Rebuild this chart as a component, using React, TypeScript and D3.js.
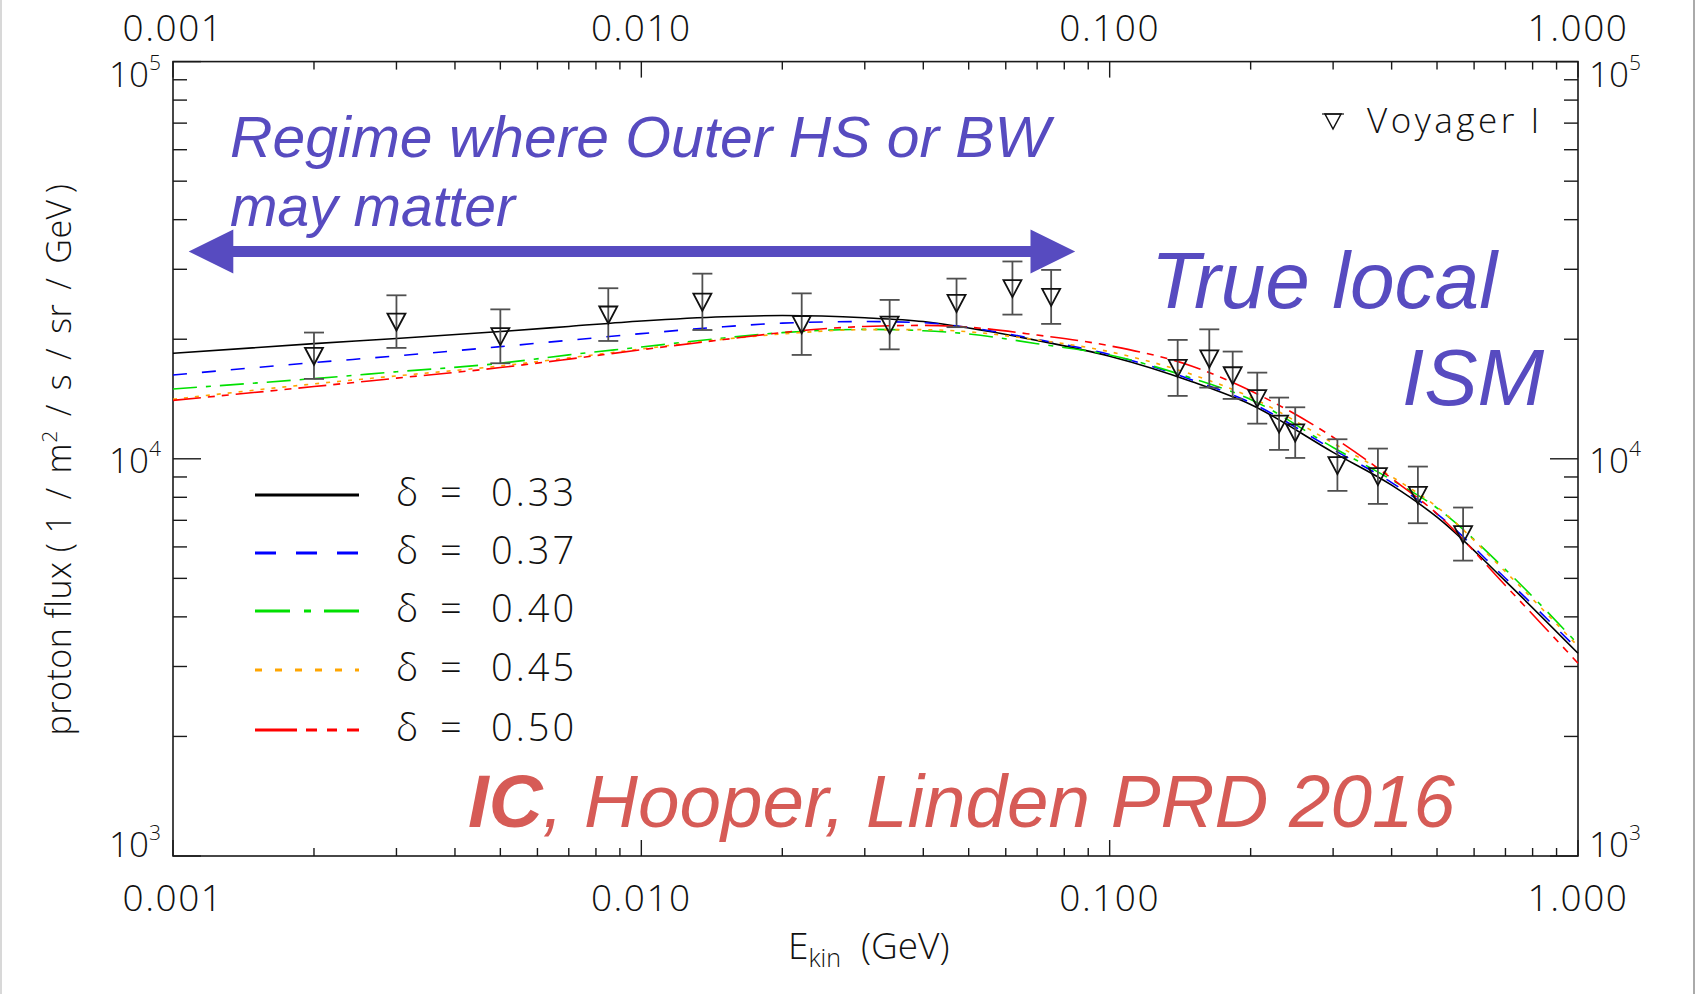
import * as d3 from 'd3';
import * as React from 'react';

// model curves (delta values)
const energyGrid = [0.001, 0.002, 0.003, 0.005, 0.007, 0.01, 0.015, 0.02, 0.03, 0.04, 0.05, 0.07, 0.1, 0.15, 0.2, 0.3, 0.4, 0.5, 0.7, 1.0];
const fluxDelta033 = [18430, 19500, 20080, 20910, 21540, 22230, 22790, 22940, 22650, 22160, 21340, 19860, 18120, 15630, 13700, 10380, 8582, 7130, 4920, 3240];
const fluxDelta037 = [16260, 17470, 18160, 19160, 19880, 20660, 21500, 21960, 22160, 22020, 21410, 19980, 18300, 15800, 13850, 10550, 8710, 7265, 5003, 3309];
const fluxDelta040 = [14990, 15920, 16560, 17400, 18270, 19120, 20150, 20780, 21180, 21010, 20620, 19490, 18250, 15950, 14110, 10680, 8850, 7518, 5261, 3415];
const fluxDelta045 = [14120, 15440, 16170, 17130, 17950, 18900, 20000, 20620, 21140, 21140, 20880, 19920, 18600, 16300, 14290, 10950, 9020, 7565, 5195, 3373];
const fluxDelta050 = [14030, 15200, 15960, 16970, 17820, 18820, 19960, 20790, 21540, 21670, 21440, 20490, 19250, 17110, 14830, 11330, 8923, 7270, 4796, 3058];
const deltaLabels = ['0.33', '0.37', '0.40', '0.45', '0.50'];

// Voyager I data points with error bars
const voyagerEnergy = [0.002, 0.003, 0.005, 0.0085, 0.0135, 0.022, 0.0339, 0.0471, 0.062, 0.075, 0.1397, 0.1632, 0.1831, 0.2066, 0.23, 0.249, 0.3064, 0.3739, 0.4551, 0.5684];
const voyagerFlux = [18170, 22160, 20360, 23080, 24860, 21820, 21770, 24680, 26900, 25560, 16940, 17890, 16230, 14210, 12260, 11650, 9643, 9042, 8112, 6461];
const voyagerLow = [15890, 19020, 17400, 19800, 21100, 18260, 18860, 21450, 23070, 21860, 14400, 15110, 14150, 12260, 10530, 10050, 8303, 7700, 6883, 5542];
const voyagerHigh = [20790, 25800, 23780, 26880, 29250, 26090, 25120, 28420, 31390, 29890, 19920, 21180, 18620, 16480, 14260, 13480, 11200, 10610, 9559, 7539];

const xTickValues = [0.001, 0.01, 0.1, 1];
const xTickLabels = ['0.001', '0.010', '0.100', '1.000'];
const yTickValues = [1e3, 1e4, 1e5];
const yTickExponents = ['3', '4', '5'];

const W = 1695;
const H = 994;
const left = 173;
const right = 1578;
const top = 61.6;
const bottom = 856;

const font = "'Open Sans', 'DejaVu Sans', sans-serif";
const helv = "'Liberation Sans', Arial, sans-serif";
const purple = '#574bc0';
const red = '#d65b56';

const seriesStyles = [
    { color: '#000000', dash: null, legendDash: null },
    { color: '#0000ff', dash: '14,15', legendDash: '21,20' },
    { color: '#00e000', dash: '24,9,5,9', legendDash: '35,14,7,13' },
    { color: '#ffa500', dash: '4,7', legendDash: '7,13' },
    { color: '#ff0000', dash: '28,7,7,7,7,7', legendDash: '42,9,11,10,10,10' },
];

export default function App() {
    const x = d3.scaleLog().domain([0.001, 1]).range([left, right]);
    const y = d3.scaleLog().domain([1e3, 1e5]).range([bottom, top]);

    const series = [fluxDelta033, fluxDelta037, fluxDelta040, fluxDelta045, fluxDelta050];
    const line = d3.line<number>()
        .x((_, i) => x(energyGrid[i]))
        .y(d => y(d))
        .curve(d3.curveMonotoneX);

    // minor ticks
    const xMinor: number[] = [];
    [0.001, 0.01, 0.1].forEach(d => { for (let k = 2; k <= 9; k++) xMinor.push(d * k); });
    const yMinor: number[] = [];
    [1e3, 1e4].forEach(d => { for (let k = 2; k <= 9; k++) yMinor.push(d * k); });

    const xMajLen = 16, xMinLen = 8, yMajLen = 28, yMinLen = 14;
    const axisColor = '#1a1a1a';

    const legendRows = [495, 553, 611, 670, 730];

    return (
        <div style={{ position: 'absolute', left: 0, top: 0 }}>
            <svg width={W} height={H} style={{ display: 'block', background: '#fff' }}>
                <line x1={1} x2={1} y1={0} y2={H} stroke="#d8d8d8" strokeWidth={2} />
                <line x1={W - 1} x2={W - 1} y1={0} y2={H} stroke="#aaaaaa" strokeWidth={2} />

                {/* frame */}
                <rect x={left} y={top} width={right - left} height={bottom - top} fill="none" stroke={axisColor} strokeWidth={1.6} />

                {/* x ticks (bottom & top) */}
                {xTickValues.concat(xMinor).map((d, i) => {
                    const len = i < xTickValues.length ? xMajLen : xMinLen;
                    return (
                        <g key={'xt' + i} stroke={axisColor} strokeWidth={1.4}>
                            <line x1={x(d)} x2={x(d)} y1={bottom} y2={bottom - len} />
                            <line x1={x(d)} x2={x(d)} y1={top} y2={top + len} />
                        </g>
                    );
                })}
                {/* y ticks (left & right) */}
                {yTickValues.concat(yMinor).map((d, i) => {
                    const len = i < yTickValues.length ? yMajLen : yMinLen;
                    return (
                        <g key={'yt' + i} stroke={axisColor} strokeWidth={1.4}>
                            <line x1={left} x2={left + len} y1={y(d)} y2={y(d)} />
                            <line x1={right} x2={right - len} y1={y(d)} y2={y(d)} />
                        </g>
                    );
                })}

                {/* x tick labels */}
                {xTickValues.map((d, i) => (
                    <g key={'xl' + i} fontFamily={font} fontWeight={300} fontSize={37} fill="#111" textAnchor="middle" letterSpacing={1.5}>
                        <text x={x(d)} y={911}>{xTickLabels[i]}</text>
                        <text x={x(d)} y={41}>{xTickLabels[i]}</text>
                    </g>
                ))}

                {/* y tick labels */}
                {yTickValues.map((d, i) => {
                    const base = i === 0 ? y(d) + 1 : i === 1 ? y(d) + 14 : y(d) + 25;
                    return (
                        <g key={'yl' + i} fontFamily={font} fontWeight={300} fill="#111">
                            <text x={161} y={base} fontSize={35} textAnchor="end">
                                10<tspan dy={-17} fontSize={21}>{yTickExponents[i]}</tspan>
                            </text>
                            <text x={1589} y={base} fontSize={35} textAnchor="start">
                                10<tspan dy={-17} fontSize={21}>{yTickExponents[i]}</tspan>
                            </text>
                        </g>
                    );
                })}

                {/* axis titles */}
                <text x={788} y={959} fontFamily={font} fontWeight={300} fontSize={37} fill="#111">
                    E<tspan dy={8} fontSize={25}>kin</tspan><tspan dy={-8} dx={20}>(GeV)</tspan>
                </text>
                <text transform="translate(71,459.5) rotate(-90)" fontFamily={font} fontWeight={300} fontSize={34}
                    fill="#111" textAnchor="middle" letterSpacing={0.5}>
                    proton flux (<tspan dx={9}>1</tspan><tspan dx={14}>/</tspan><tspan dx={14}>m</tspan><tspan dy={-14} fontSize={21}>2</tspan><tspan dy={14} dx={14}>/</tspan><tspan dx={14}>s</tspan><tspan dx={14}>/</tspan><tspan dx={14}>sr</tspan><tspan dx={14}>/</tspan><tspan dx={14}>GeV</tspan><tspan dx={6}>)</tspan>
                </text>

                {/* model curves */}
                <g fill="none">
                    {series.map((s, i) => (
                        <path key={'c' + i} d={line(s) || ''} stroke={seriesStyles[i].color}
                            strokeWidth={1.6} strokeDasharray={seriesStyles[i].dash || undefined} />
                    ))}
                </g>

                {/* Voyager data */}
                <g>
                    {voyagerEnergy.map((e, i) => {
                        const cx = x(e);
                        const cy = y(voyagerFlux[i]);
                        const yl = y(voyagerLow[i]);
                        const yh = y(voyagerHigh[i]);
                        return (
                            <g key={'v' + i}>
                                <g stroke="#505050" strokeWidth={1.8}>
                                    <line x1={cx} x2={cx} y1={yh} y2={yl} />
                                    <line x1={cx - 10} x2={cx + 10} y1={yh} y2={yh} />
                                    <line x1={cx - 10} x2={cx + 10} y1={yl} y2={yl} />
                                </g>
                                <path d={`M${cx - 9},${cy - 8}L${cx + 9},${cy - 8}L${cx},${cy + 9}Z`}
                                    fill="none" stroke="#111" strokeWidth={1.8} />
                            </g>
                        );
                    })}
                </g>

                {/* Voyager legend */}
                <path d="M1325,114L1341,114L1333,129Z" fill="none" stroke="#111" strokeWidth={1.5} />
                <line x1={1322} x2={1344} y1={114} y2={114} stroke="#111" strokeWidth={1.2} />
                <text x={1367} y={133} fontFamily={font} fontWeight={300} fontSize={35} fill="#111" letterSpacing={3.5}>Voyager I</text>

                {/* delta legend */}
                {legendRows.map((ry, i) => (
                    <g key={'lg' + i}>
                        <line x1={255} x2={359} y1={ry} y2={ry} stroke={seriesStyles[i].color}
                            strokeWidth={2.8} strokeDasharray={seriesStyles[i].legendDash || undefined} />
                        <g fontFamily={font} fontWeight={300} fontSize={38} fill="#111">
                            <text x={396} y={ry + 11}>δ</text>
                            <text x={440} y={ry + 11}>=</text>
                            <text x={491} y={ry + 11} letterSpacing={3}>{deltaLabels[i]}</text>
                        </g>
                    </g>
                ))}

                {/* annotations */}
                <text x={230} y={157} fontFamily={helv} fontStyle="italic" fontSize={57} fill={purple}
                    textLength={820} lengthAdjust="spacingAndGlyphs">Regime where Outer HS or BW</text>
                <text x={230} y={226} fontFamily={helv} fontStyle="italic" fontSize={57} fill={purple}>may matter</text>
                <path d="M188.7,251.5L233.3,229.5L233.3,246L1030.5,246L1030.5,229.5L1075.2,251.5L1030.5,273.5L1030.5,257L233.3,257L233.3,273.5Z"
                    fill={purple} />
                <text x={1151} y={308} fontFamily={helv} fontStyle="italic" fontSize={80} fill={purple}
                    textLength={346} lengthAdjust="spacingAndGlyphs">True local</text>
                <text x={1402} y={405} fontFamily={helv} fontStyle="italic" fontSize={80} fill={purple}>ISM</text>
                <text x={468} y={827} fontFamily={helv} fontStyle="italic" fontSize={75} fill={red}
                    textLength={987} lengthAdjust="spacingAndGlyphs">
                    <tspan fontWeight="bold">IC</tspan>, Hooper, Linden PRD 2016
                </text>
            </svg>
        </div>
    );
}
